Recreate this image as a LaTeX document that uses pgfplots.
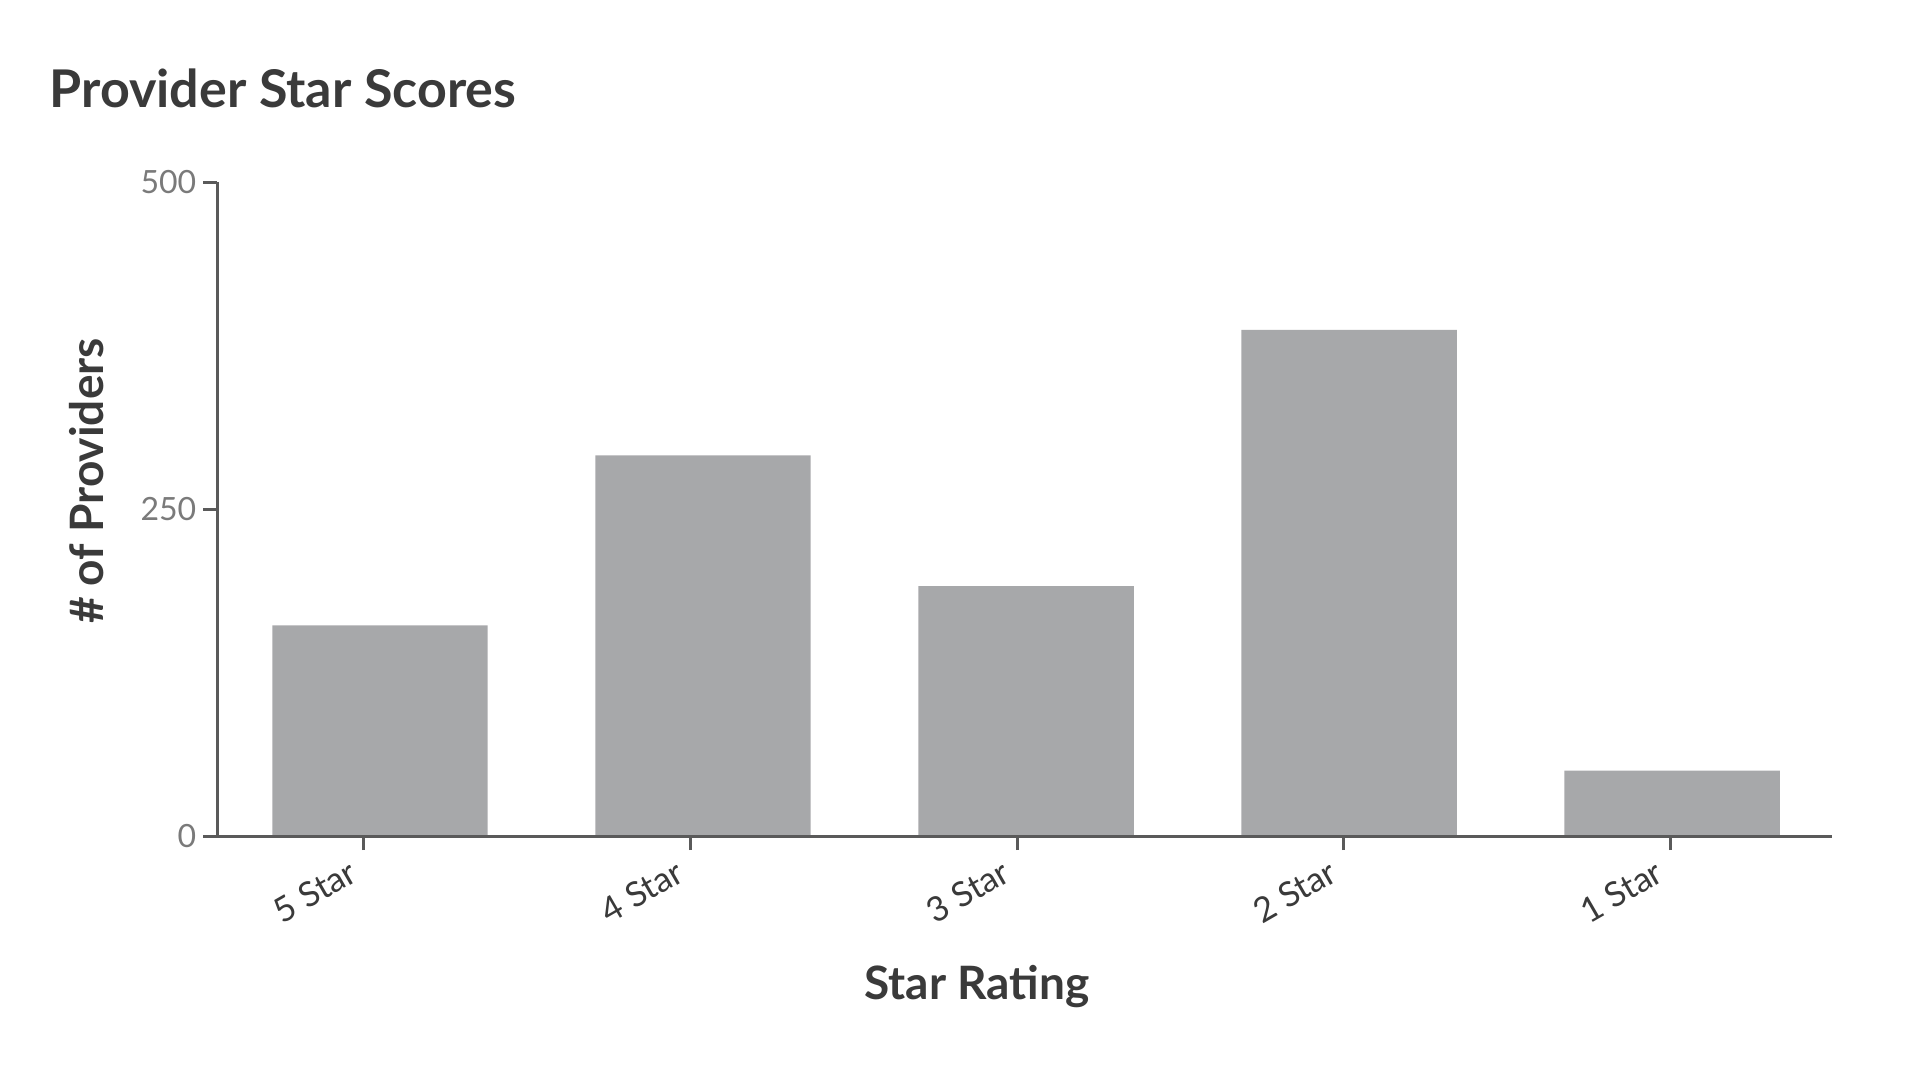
\documentclass[border=0pt]{standalone}
\usepackage{fontspec}
\setmainfont{Lato}
\usepackage{pgfplots}
\pgfplotsset{compat=1.18}

\definecolor{barfill}{HTML}{A7A8AA}
\definecolor{axisgray}{HTML}{5A5A5A}
\definecolor{ticktext}{HTML}{7A7A7A}
\definecolor{labeltext}{HTML}{3A3A3A}

\begin{document}
\begin{tikzpicture}
% page = 1905 x 1065 px at 4 px per pt
\useasboundingbox (0,0) rectangle (476.25pt,266.25pt);

\node[anchor=base west, text=labeltext, font=\fontsize{13}{15}\selectfont\bfseries, inner sep=0pt]
  at (12.2pt,239.3pt) {Provider Star Scores};

\begin{axis}[
    at={(54.25pt,57.25pt)}, anchor=south west,
    scale only axis,
    width=403.75pt, height=163.5pt,
    axis x line*=bottom, axis y line*=left,
    axis line style={axisgray, line width=0.75pt},
    every tick/.style={axisgray, line width=0.75pt},
    tick align=outside,
    major tick length=3.5pt,
    xmin=-0.5046, xmax=4.495,
    ymin=0, ymax=500,
    ytick={0,250,500},
    xtick={-0.05,0.961,1.972,2.983,3.994},
    xticklabels={5 Star,4 Star,3 Star,2 Star,1 Star},
    x tick label style={rotate=30, anchor=north east, text=labeltext,
      font=\fontsize{8.6}{9}\selectfont, inner sep=1.5pt, xshift=-3pt, yshift=2pt},
    y tick label style={text=ticktext, font=\fontsize{8}{9}\selectfont, inner sep=1.5pt},
    /pgf/number format/assume math mode=true,
    axis on top,
    clip=false,
  ]
  \addplot[ybar, bar width=0.6667, fill=barfill, draw=none]
    coordinates {(0,161) (1,291) (2,191) (3,387) (4,50)};
\end{axis}

\node[anchor=base, text=labeltext, font=\fontsize{11.5}{13}\selectfont\bfseries, inner sep=0pt]
  at (244.25pt,16.5pt) {Star Rating};
\node[rotate=90, text=labeltext, font=\fontsize{11.5}{13}\selectfont\bfseries, inner sep=0pt]
  at (21.75pt,146pt) {\# of Providers};
\end{tikzpicture}
\end{document}
